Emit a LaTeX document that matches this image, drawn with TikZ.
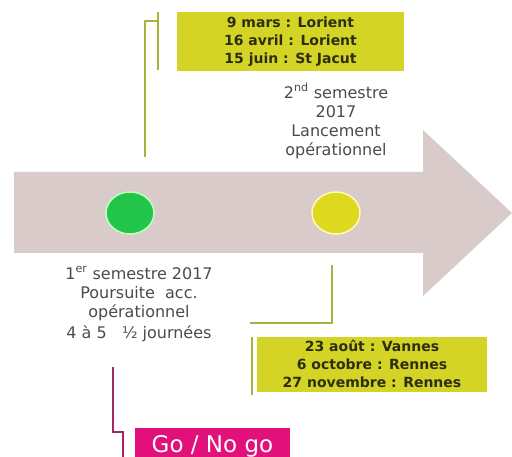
\documentclass[tikz,border=0pt]{standalone}
\usepackage{fontspec}
\setmainfont{DejaVu Sans}
\usetikzlibrary{shapes.geometric}
\definecolor{arrowfill}{RGB}{218,203,203}
\definecolor{boxyellow}{RGB}{212,212,38}
\definecolor{olive}{RGB}{168,178,62}
\definecolor{dotgreen}{RGB}{34,196,74}
\definecolor{dotyellow}{RGB}{222,216,32}
\definecolor{gonogo}{RGB}{226,16,122}
\definecolor{darkmag}{RGB}{160,40,96}
\definecolor{txtgray}{RGB}{75,75,75}
\definecolor{boxtxt}{RGB}{45,45,15}
\tikzset{
  datebox/.style={rectangle, fill=boxyellow, inner sep=0pt, align=center, text=boxtxt,
    font=\bfseries\fontsize{14}{18}\selectfont},
  dot/.style={ellipse, minimum width=48pt, minimum height=42pt, inner sep=0pt, line width=1.5pt},
  label/.style={align=center, text=txtgray, font=\fontsize{16}{19}\selectfont, inner sep=0pt},
  olivel/.style={draw=olive, line width=2pt},
  magl/.style={draw=darkmag, line width=2pt}
}
\begin{document}
\begin{tikzpicture}[x=1pt,y=-1pt]
\useasboundingbox (0,0) rectangle (512,457);
% big arrow
\fill[arrowfill] (14,172) -- (423,172) -- (423,130) -- (512,213) -- (423,296) -- (423,253) -- (14,253) -- cycle;
% dots
\node[dot, fill=dotgreen, draw=green!25!white] (d1) at (130,213) {};
\node[dot, fill=dotyellow, draw=yellow!30!white] (d2) at (336,213) {};
% top date box
\node[datebox, minimum width=227pt, minimum height=59pt] (top) at (290.5,41.5)
  {9 mars : Lorient\\16 avril : Lorient\\15 juin : St Jacut};
% bottom date box
\node[datebox, minimum width=230pt, minimum height=55pt] (bot) at (372,364.5)
  {23 août : Vannes\\6 octobre : Rennes\\27 novembre : Rennes};
% go/no go box
\node[rectangle, fill=gonogo, text=white, minimum width=155pt, minimum height=36pt, inner sep=0pt,
  font=\fontsize{23}{27}\selectfont] (go) at (212.5,446) {Go / No go};
% labels
\node[label] (lab2) at (336,121) {2\textsuperscript{nd} semestre\\2017\\Lancement\\opérationnel};
\node[label] (lab1) at (139,304) {1\textsuperscript{er} semestre 2017\\Poursuite\ \ acc.\\opérationnel\\[2pt]4 à 5\ \ \ ½ journées};
% top connector
\coordinate (t1) at (158,12);
\coordinate (t2) at (158,70);
\coordinate (t3) at (158,21);
\coordinate (t4) at (145,21);
\coordinate (t5) at (145,157);
\draw[olivel] (t1) -- (t2);
\draw[olivel] (t3) -- (t4) -- (t5);
% bottom connector
\coordinate (b1) at (332,265);
\coordinate (b2) at (332,323);
\coordinate (b3) at (250,323);
\draw[olivel] (b1) -- (b2) -- (b3);
\coordinate (b4) at (252,337);
\coordinate (b5) at (252,395);
\draw[olivel] (b4) -- (b5);
% magenta connector
\coordinate (m1) at (113,367);
\coordinate (m2) at (113,432);
\coordinate (m3) at (123,432);
\coordinate (m4) at (123,457);
\draw[magl] (m1) -- (m2) -- (m3) -- (m4);
\end{tikzpicture}
\end{document}
